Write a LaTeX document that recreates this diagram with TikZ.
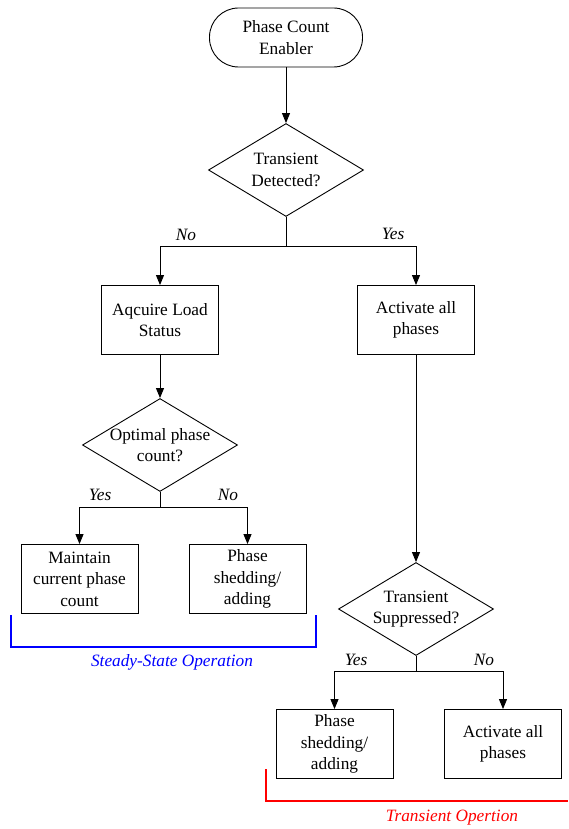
\documentclass[tikz,border=0pt]{standalone}
\usepackage{fontspec}
\setmainfont{Liberation Serif}
\newfontfamily\tnr{Liberation Serif}
\usetikzlibrary{shapes.geometric,arrows.meta}
\begin{document}
\begin{tikzpicture}[x=1pt,y=-1pt,
  every node/.style={font=\tnr\fontsize{17.3}{21.5}\selectfont},
  box/.style={draw,line width=0.9pt,minimum width=117pt,minimum height=69pt,align=center,inner sep=0pt},
  term/.style={draw,line width=0.9pt,minimum width=153pt,minimum height=59pt,rounded corners=29pt,align=center,inner sep=0pt},
  dia/.style={draw,line width=0.9pt,diamond,minimum width=155pt,minimum height=93pt,inner sep=0pt},
  dtext/.style={align=center,inner sep=0pt},
  lab/.style={font=\tnr\fontsize{17.3}{20}\selectfont\itshape,inner sep=0pt},
  conn/.style={line width=0.9pt},
  arr/.style={line width=0.9pt,-{Triangle[length=10pt,width=8pt]}}]
\useasboundingbox (0,0) rectangle (568,829);
\node[term] (start) at (286,37.5) {Phase Count\\Enabler};
\node[dia] (d1) at (286,170) {};
\node[dtext] (d1t) at (286,170) {Transient\\Detected?};
\node[box] (acq) at (160,320) {Aqcuire Load\\Status};
\node[box] (act) at (416,320) {Activate all\\phases};
\node[dia] (d2) at (160,445) {};
\node[dtext] (d2t) at (160,445) {Optimal phase\\count?};
\node[box] (maint) at (79.5,579) {Maintain\\current phase\\count};
\node[box] (shed1) at (247.5,579) {Phase\\shedding/\\adding};
\node[dia] (d3) at (416,609) {};
\node[dtext] (d3t) at (416,609) {Transient\\Suppressed?};
\node[box] (shed2) at (334.5,744) {Phase\\shedding/\\adding};
\node[box] (act2) at (503,744) {Activate all\\phases};
\coordinate (b1) at (286,246);
\coordinate (b2) at (160,507);
\coordinate (b3) at (416,671);
\draw[arr] (start) -- (d1);
\draw[conn] (d1.south) -- (b1);
\draw[arr] (b1) -| (acq);
\draw[arr] (b1) -| (act);
\draw[arr] (acq) -- (d2);
\draw[conn] (d2.south) -- (b2);
\draw[arr] (b2) -| (maint);
\draw[arr] (b2) -| (shed1);
\draw[arr] (act) -- (d3);
\draw[conn] (d3.south) -- (b3);
\draw[arr] (b3) -| (shed2);
\draw[arr] (b3) -| (act2);
\node[lab] (no1) at (186,235) {No};
\node[lab] (yes1) at (393,234) {Yes};
\node[lab] (yes2) at (100,495) {Yes};
\node[lab] (no2) at (228,495) {No};
\node[lab] (yes3) at (356,660) {Yes};
\node[lab] (no3) at (484,660) {No};
\draw[blue,line width=1.3pt] (11,615) -- (11,647) -- (316,647) -- (316,615);
\node[lab,text=blue] (ss) at (172,662) {Steady-State Operation};
\draw[red,line width=1.3pt] (266,769) -- (266,801) -- (568,801);
\node[lab,text=red] (tr) at (452,818) {Transient Opertion};
\end{tikzpicture}
\end{document}
